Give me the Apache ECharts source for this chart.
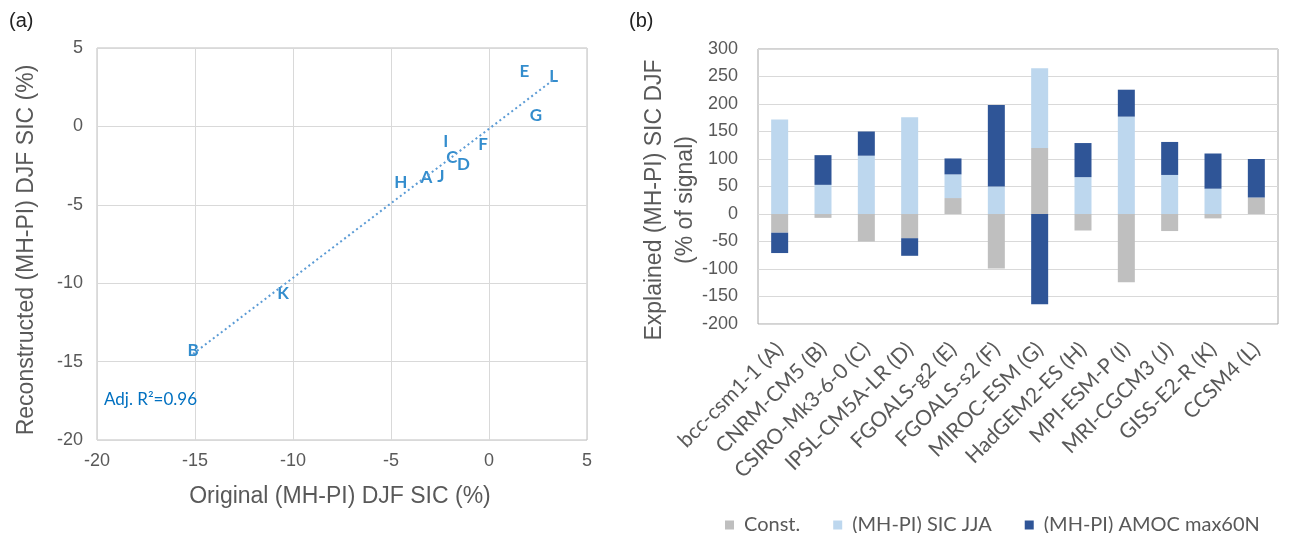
<!DOCTYPE html>
<html>
<head>
<meta charset="utf-8">
<script src="https://cdn.jsdelivr.net/npm/echarts@6/dist/echarts.min.js"></script>
<style>
html,body{margin:0;padding:0;background:#fff;}
#c{width:1292px;height:533px;}
</style>
</head>
<body>
<div id="c"></div>
<script>
// Panel (a): scatter of original vs reconstructed
const modelLetters = ['A','B','C','D','E','F','G','H','I','J','K','L'];
const originalX = [-3.2, -15.1, -1.9, -1.3, 1.8, -0.3, 2.4, -4.5, -2.2, -2.45, -10.5, 3.3];
const reconstructedY = [-3.25, -14.3, -2.0, -2.4, 3.5, -1.15, 0.7, -3.6, -0.95, -3.2, -10.65, 3.2];
const r2Text = 'Adj. R²=0.96';

// Panel (b): stacked contributions
const models = ['bcc-csm1-1 (A)','CNRM-CM5 (B)','CSIRO-Mk3-6-0 (C)','IPSL-CM5A-LR (D)','FGOALS-g2 (E)','FGOALS-s2 (F)','MIROC-ESM (G)','HadGEM2-ES (H)','MPI-ESM-P (I)','MRI-CGCM3 (J)','GISS-E2-R (K)','CCSM4 (L)'];
const constVals = [-34, -7, -50, -44, 29, -99, 120, -30, -124, -31, -8, 30];
const sicJJA = [172, 53, 106, 176, 43, 50, 145, 67, 177, 71, 46, 0];
const amocMax60N = [-37, 54, 44, -32, 29, 148, -164, 62, 49, 60, 64, 70];
const seriesNames = ['Const.', '(MH-PI) SIC JJA', '(MH-PI) AMOC max60N'];

// least-squares trend line from the scatter data
const n = originalX.length;
const mx = originalX.reduce((a,b)=>a+b,0)/n;
const my = reconstructedY.reduce((a,b)=>a+b,0)/n;
let sxy=0, sxx=0;
for (let i=0;i<n;i++){ sxy+=(originalX[i]-mx)*(reconstructedY[i]-my); sxx+=(originalX[i]-mx)**2; }
const slope = sxy/sxx, icpt = my - slope*mx;
const xMin = Math.min(...originalX), xMax = Math.max(...originalX);
const trend = [[xMin, icpt+slope*xMin],[xMax, icpt+slope*xMax]];

const gray = '#595959';
const titleFont = {fontFamily:'Liberation Sans', fontSize:23, fill:gray, textAlign:'center', textVerticalAlign:'middle'};
const chart = echarts.init(document.getElementById('c'), null, {renderer:'canvas'});
chart.setOption({
  backgroundColor:'#fff',
  animation:false,
  title:[
    {text:'(a)', left:4, top:6, textStyle:{fontFamily:'Liberation Sans', fontSize:20, fontWeight:'normal', color:'#222'}},
    {text:'(b)', left:624, top:6, textStyle:{fontFamily:'Liberation Sans', fontSize:20, fontWeight:'normal', color:'#222'}},
    {text:r2Text, left:99, top:386, textStyle:{fontFamily:'Lato', fontSize:17, fontWeight:'normal', color:'#0070C0'}}
  ],
  graphic:[
    {type:'text', x:27, y:250, rotation:Math.PI/2, style:Object.assign({text:'Reconstructed (MH-PI) DJF SIC (%)'}, titleFont)},
    {type:'text', x:340, y:497, style:Object.assign({text:'Original (MH-PI) DJF SIC (%)'}, titleFont)},
    {type:'text', x:655, y:200, rotation:Math.PI/2, style:Object.assign({text:'Explained (MH-PI) SIC DJF'}, titleFont)},
    {type:'text', x:686, y:200, rotation:Math.PI/2, style:Object.assign({text:'(% of signal)'}, titleFont)}
  ],
  legend:{
    data:seriesNames, top:510, left:720, itemWidth:9, itemHeight:9, itemGap:33, icon:'rect',
    textStyle:{fontFamily:'Lato', fontSize:20, color:gray, padding:[0,0,0,5]}
  },
  grid:[
    {left:97, right:705, top:48, bottom:93, show:true, borderColor:'#bfbfbf', borderWidth:1},
    {left:758, right:14, top:49, bottom:209, show:true, borderColor:'#a6a6a6', borderWidth:1}
  ],
  xAxis:[
    {gridIndex:0, type:'value', min:-20, max:5, interval:5,
     axisLine:{show:false}, axisTick:{show:false},
     axisLabel:{fontFamily:'Liberation Sans', fontSize:18, color:gray, margin:12},
     splitLine:{lineStyle:{color:'#d9d9d9'}}},
    {gridIndex:1, type:'category', data:models,
     axisLine:{show:false}, axisTick:{show:false},
     axisLabel:{rotate:45, fontFamily:'Lato', fontSize:21, color:gray, margin:22, interval:0}}
  ],
  yAxis:[
    {gridIndex:0, type:'value', min:-20, max:5, interval:5,
     axisLine:{show:false}, axisTick:{show:false},
     axisLabel:{fontFamily:'Liberation Sans', fontSize:18, color:gray, margin:14},
     splitLine:{lineStyle:{color:'#d9d9d9'}}},
    {gridIndex:1, type:'value', min:-200, max:300, interval:50,
     axisLine:{show:false}, axisTick:{show:false},
     axisLabel:{fontFamily:'Liberation Sans', fontSize:18, color:gray, margin:20},
     splitLine:{lineStyle:{color:'#d9d9d9'}}}
  ],
  series:[
    {type:'line', xAxisIndex:0, yAxisIndex:0, data:trend, symbol:'none', silent:true,
     lineStyle:{color:'#5B9BD5', width:2, type:[2,3]}},
    {type:'scatter', xAxisIndex:0, yAxisIndex:0, symbolSize:1,
     itemStyle:{color:'rgba(0,0,0,0)'},
     data: originalX.map((x,i)=>[x, reconstructedY[i], modelLetters[i]]),
     label:{show:true, position:'inside', formatter:p=>p.value[2],
            fontFamily:'Lato', fontWeight:'bold', fontSize:17, color:'#0070C0'}},
    {name:seriesNames[0], type:'bar', xAxisIndex:1, yAxisIndex:1, stack:'t', barWidth:17, data:constVals, itemStyle:{color:'#bfbfbf'}},
    {name:seriesNames[1], type:'bar', xAxisIndex:1, yAxisIndex:1, stack:'t', barWidth:17, data:sicJJA, itemStyle:{color:'#bdd7ee'}},
    {name:seriesNames[2], type:'bar', xAxisIndex:1, yAxisIndex:1, stack:'t', barWidth:17, data:amocMax60N, itemStyle:{color:'#2f5597'}}
  ]
});
</script>
</body>
</html>
